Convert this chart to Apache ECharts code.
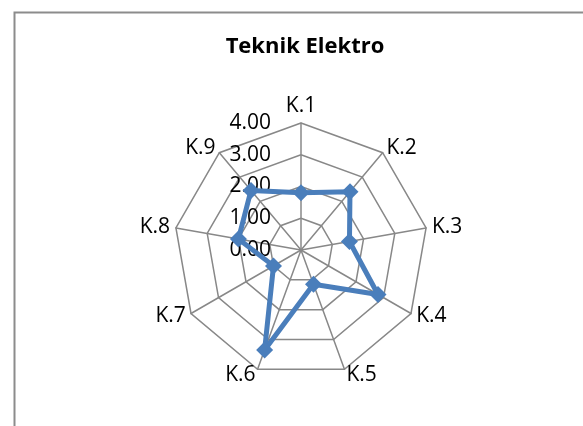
<!DOCTYPE html>
<html>
<head>
<meta charset="utf-8">
<script src="https://cdn.jsdelivr.net/npm/echarts@6/dist/echarts.min.js"></script>
<style>
  html, body { margin: 0; padding: 0; background: #fff; }
  #chart { width: 583px; height: 426px; }
</style>
</head>
<body>
<div id="chart"></div>
<script>
const categories = ['K.1', 'K.2', 'K.3', 'K.4', 'K.5', 'K.6', 'K.7', 'K.8', 'K.9'];
const values = [1.8, 2.4, 1.55, 2.8, 1.15, 3.35, 1.0, 2.0, 2.45];
const maxValue = 4;

const chart = echarts.init(document.getElementById('chart'));

// radar runs counter-clockwise, so keep K.1 first and reverse the rest
const order = [0].concat(categories.map((c, i) => i).slice(1).reverse());

const indicators = order.map((idx, i) => {
    const ind = { name: categories[idx], max: maxValue, min: 0 };
    if (i === 0) {
        ind.axisLabel = {
            show: true,
            color: '#000',
            fontSize: 21,
            fontFamily: 'Open Sans',
            align: 'right',
            verticalAlign: 'middle',
            margin: 30,
            formatter: v => v.toFixed(2)
        };
    }
    return ind;
});

const options = {
    animation: false,
    title: {
        text: 'Teknik Elektro',
        left: 300,
        top: 31,
        textAlign: 'center',
        textStyle: { fontSize: 22, fontWeight: 'bold', color: '#000', fontFamily: 'Open Sans' }
    },
    graphic: [{
        type: 'rect',
        left: 12,
        top: 10,
        shape: { width: 620, height: 460 },
        style: { fill: null, stroke: '#8c8c8c', lineWidth: 2 }
    }],
    radar: {
        center: [301, 250],
        radius: 127,
        startAngle: 90,
        shape: 'polygon',
        splitNumber: 4,
        indicator: indicators,
        axisName: { color: '#000', fontSize: 21, fontFamily: 'Open Sans' },
        nameGap: 6,
        axisLabel: { show: false },
        axisLine: { lineStyle: { color: '#888', width: 1.5 } },
        splitLine: { lineStyle: { color: '#888', width: 1.5 } },
        splitArea: { show: false }
    },
    series: [{
        type: 'radar',
        data: [{ value: order.map(idx => values[idx]) }],
        symbol: 'diamond',
        symbolSize: 17,
        lineStyle: { color: '#4a7ebb', width: 5 },
        itemStyle: { color: '#4a7ebb' }
    }]
};

chart.setOption(options);
window.addEventListener('resize', chart.resize);
</script>
</body>
</html>
